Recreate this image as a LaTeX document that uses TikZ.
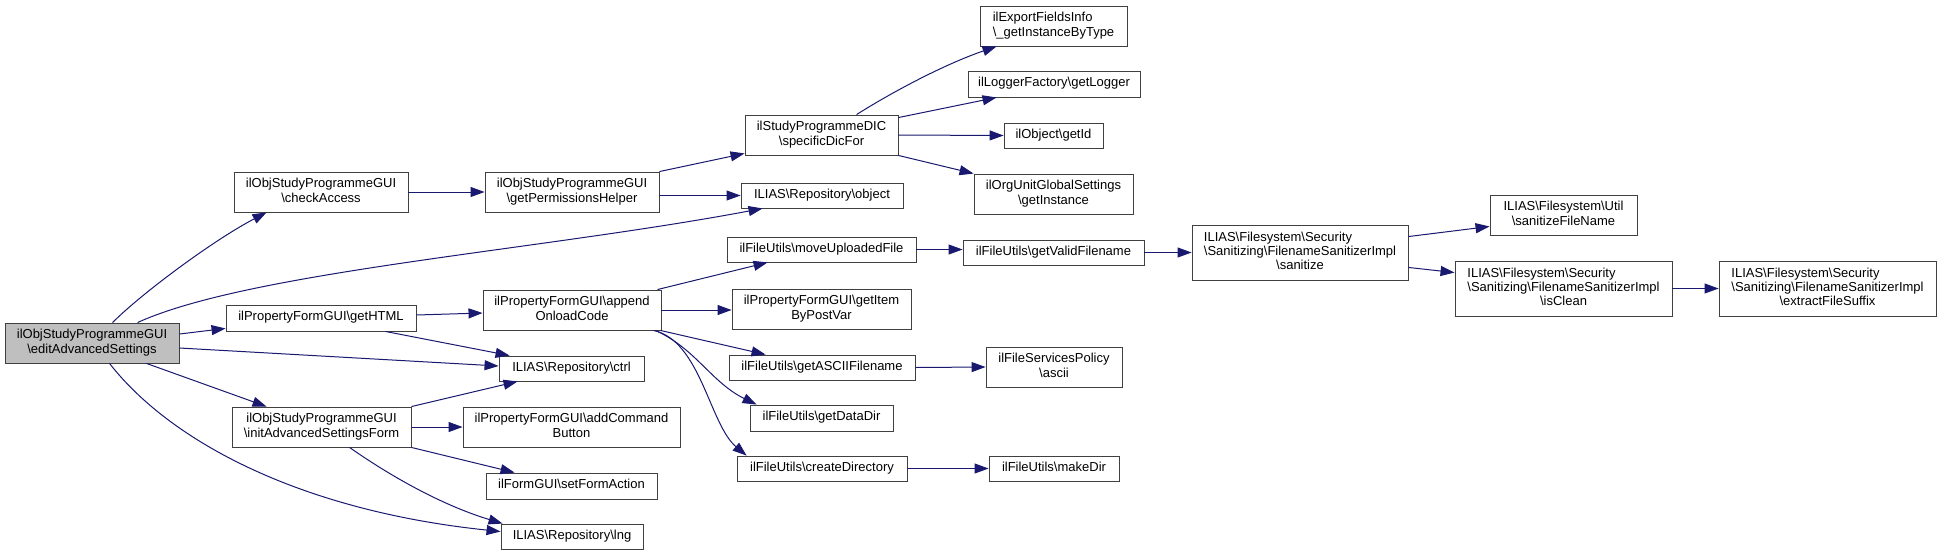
\documentclass[tikz,border=0pt]{standalone}
\usepackage{fontspec}
\setmainfont{Liberation Sans}
\usetikzlibrary{arrows.meta,calc}
\definecolor{edgecol}{RGB}{25,25,112}
\definecolor{editfill}{RGB}{191,191,191}
\definecolor{boxline}{RGB}{64,64,64}
\newcommand{\BS}{\textbackslash}
\newcommand{\mkc}[1]{\begin{tabular}{@{}c@{}}#1\end{tabular}}
\newcommand{\mkl}[1]{\begin{tabular}{@{}l@{}}#1\end{tabular}}
\begin{document}
\begin{tikzpicture}[x=1pt,y=-1pt,
  nd/.style={draw=boxline, line width=0.9pt, inner sep=0pt, fill=white, font=\fontsize{13}{14.3}\selectfont},
  sz/.style 2 args={minimum width=#1pt, minimum height=#2pt},
  ed/.style={draw=edgecol, line width=1pt, -{Triangle[length=14pt,width=10pt]}}]
\fill[white] (0,0) rectangle (1941,555);
\useasboundingbox (0,0) rectangle (1941,555);

% column 0
\node[nd,sz={174}{40},fill=editfill] (edit) at (92,343) {\mkc{ilObjStudyProgrammeGUI\\\BS editAdvancedSettings}};
% column 1
\node[nd,sz={174}{40}] (checkAccess) at (321,192) {\mkc{ilObjStudyProgrammeGUI\\\BS checkAccess}};
\node[nd,sz={190}{26}] (getHTML) at (321,318) {\mkc{ilPropertyFormGUI\BS getHTML}};
\node[nd,sz={179}{40}] (init) at (321.5,427) {\mkc{ilObjStudyProgrammeGUI\\\BS initAdvancedSettingsForm}};
% column 2
\node[nd,sz={174}{40}] (getPerm) at (572,192) {\mkc{ilObjStudyProgrammeGUI\\\BS getPermissionsHelper}};
\node[nd,sz={178}{40}] (appendOnload) at (572,310) {\mkc{ilPropertyFormGUI\BS append\\OnloadCode}};
\node[nd,sz={145}{25}] (ctrl) at (571.5,368.5) {\mkc{ILIAS\BS Repository\BS ctrl}};
\node[nd,sz={217}{40}] (addCmd) at (571.5,427) {\mkc{ilPropertyFormGUI\BS addCommand\\Button}};
\node[nd,sz={171}{26}] (setForm) at (571.5,486) {\mkc{ilFormGUI\BS setFormAction}};
\node[nd,sz={142}{25}] (lng) at (572,536.5) {\mkc{ILIAS\BS Repository\BS lng}};
% column 3
\node[nd,sz={153}{40}] (specDic) at (821.5,135) {\mkc{ilStudyProgrammeDIC\\\BS specificDicFor}};
\node[nd,sz={162}{25}] (object) at (822,195.5) {\mkc{ILIAS\BS Repository\BS object}};
\node[nd,sz={189}{25}] (moveUp) at (821.5,249.5) {\mkc{ilFileUtils\BS moveUploadedFile}};
\node[nd,sz={179}{40}] (getItem) at (821.5,309) {\mkc{ilPropertyFormGUI\BS getItem\\ByPostVar}};
\node[nd,sz={186}{25}] (getASCII) at (822,367.5) {\mkc{ilFileUtils\BS getASCIIFilename}};
\node[nd,sz={143}{26}] (getDataDir) at (821.5,418) {\mkc{ilFileUtils\BS getDataDir}};
\node[nd,sz={170}{25}] (createDir) at (822,468.5) {\mkc{ilFileUtils\BS createDirectory}};
% column 4
\node[nd,sz={147}{40}] (expFields) at (1053.5,26) {\mkl{ilExportFieldsInfo\\\BS\_getInstanceByType}};
\node[nd,sz={172}{26}] (getLogger) at (1054,84) {\mkc{ilLoggerFactory\BS getLogger}};
\node[nd,sz={99}{25}] (getId) at (1053.5,135.5) {\mkc{ilObject\BS getId}};
\node[nd,sz={159}{40}] (orgUnit) at (1053.5,194) {\mkc{ilOrgUnitGlobalSettings\\\BS getInstance}};
\node[nd,sz={181}{25}] (validFn) at (1053.5,252.5) {\mkc{ilFileUtils\BS getValidFilename}};
\node[nd,sz={136}{40}] (ascii) at (1054,367) {\mkc{ilFileServicesPolicy\\\BS ascii}};
\node[nd,sz={130}{25}] (makeDir) at (1054,468.5) {\mkc{ilFileUtils\BS makeDir}};
% column 5
\node[nd,sz={216}{55}] (sanitize) at (1300,252.5) {\mkl{ILIAS\BS Filesystem\BS Security\\\BS Sanitizing\BS FilenameSanitizerImpl\\\multicolumn{1}{@{}c@{}}{\BS sanitize}}};
% column 6
\node[nd,sz={147}{40}] (sanFileName) at (1563.5,215) {\mkc{ILIAS\BS Filesystem\BS Util\\\BS sanitizeFileName}};
\node[nd,sz={217}{55}] (isClean) at (1563.5,288.5) {\mkl{ILIAS\BS Filesystem\BS Security\\\BS Sanitizing\BS FilenameSanitizerImpl\\\multicolumn{1}{@{}c@{}}{\BS isClean}}};
% column 7
\node[nd,sz={217}{55}] (extract) at (1827.5,288.5) {\mkl{ILIAS\BS Filesystem\BS Security\\\BS Sanitizing\BS FilenameSanitizerImpl\\\multicolumn{1}{@{}c@{}}{\BS extractFileSuffix}}};

% edges
\draw[ed] ($(edit.north west)+(108,0)$) .. controls +(30,-30) and +(-52,27) .. ($(checkAccess.south west)+(33,0)$);
\draw[ed] (checkAccess.east) -- (getPerm.west);
\draw[ed] (getPerm.north east) -- ($(specDic.south west)+(0,-2)$);
\draw[ed] (getPerm.east |- object.west) -- (object.west);
\draw[ed] ($(edit.north west)+(133,0)$) .. controls +(112,-51) and +(-223,42) .. ($(object.south west)+(22,0)$);
\draw[ed] ($(edit.east)+(0,-9)$) -- ($(getHTML.south west)+(0,-3)$);
\draw[ed] ($(getHTML.east)+(0,-3)$) -- ($(appendOnload.west)+(0,3)$);
\draw[ed] ($(getHTML.south east)+(-31,0)$) -- ($(ctrl.north west)+(11,0)$);
\draw[ed] ($(edit.east)+(0,5)$) -- ($(ctrl.west)+(0,-2.5)$);
\draw[ed] (init.north east) -- ($(ctrl.south west)+(19,0)$);
\draw[ed] ($(edit.south west)+(142,0)$) -- ($(init.north west)+(35,0)$);
\draw[ed] (init.east) -- (addCmd.west);
\draw[ed] (init.south east) -- ($(setForm.north west)+(29,0)$);
\draw[ed] ($(init.south west)+(118,0)$) .. controls +(50,35) and +(-53,-16) .. ($(lng.north west)+(2,0)$);
\draw[ed] ($(edit.south west)+(105,0)$) .. controls +(60,77) and +(-202,-21) .. ($(lng.west)+(0,-5)$);
\draw[ed] ($(appendOnload.north east)+(-4,0)$) -- ($(moveUp.south west)+(41,0)$);
\draw[ed] (appendOnload.east) -- (appendOnload.east -| getItem.west);
\draw[ed] ($(appendOnload.south east)+(-1,0)$) -- ($(getASCII.north west)+(37,0)$);
\draw[ed] ($(appendOnload.south east)+(-6,0)$) .. controls +(40,18) and +(-45,-22) .. ($(getDataDir.north west)+(7,0)$);
\draw[ed] ($(appendOnload.south east)+(-8,0)$) .. controls +(47,10) and +(-37,-31) .. ($(createDir.north west)+(10,0)$);
\draw[ed] ($(specDic.north west)+(112,0)$) .. controls +(43,-27) and +(-47,16) .. ($(expFields.south west)+(17,0)$);
\draw[ed] ($(specDic.north east)+(0,3)$) -- ($(getLogger.south west)+(29,0)$);
\draw[ed] (specDic.east) -- (getId.west);
\draw[ed] (specDic.south east) -- (orgUnit.north west);
\draw[ed] (moveUp.east) -- (moveUp.east -| validFn.west);
\draw[ed] (validFn.east) -- (sanitize.west);
\draw[ed] ($(sanitize.north east)+(0,12)$) -- ($(sanFileName.south west)+(0,-9)$);
\draw[ed] ($(sanitize.south east)+(0,-13)$) -- ($(isClean.north west)+(0,12)$);
\draw[ed] (isClean.east) -- (extract.west);
\draw[ed] (getASCII.east) -- (ascii.west);
\draw[ed] (createDir.east) -- (makeDir.west);
\end{tikzpicture}
\end{document}
